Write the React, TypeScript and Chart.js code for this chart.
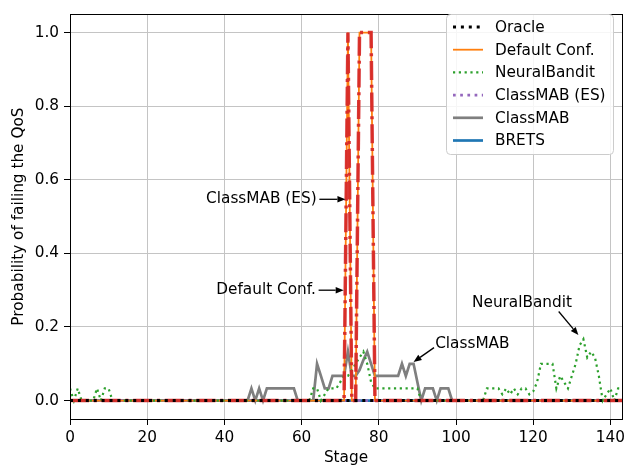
import React, { useEffect, useRef } from 'react';
import { Chart, registerables } from 'chart.js';

Chart.register(...registerables);

// ---------------- data ----------------
const oracle = [
  0, 0, 0, 0, 0, 0, 0, 0, 0, 0,
  0, 0, 0, 0, 0, 0, 0, 0, 0, 0,
  0, 0, 0, 0, 0, 0, 0, 0, 0, 0,
  0, 0, 0, 0, 0, 0, 0, 0, 0, 0,
  0, 0, 0, 0, 0, 0, 0, 0, 0, 0,
  0, 0, 0, 0, 0, 0, 0, 0, 0, 0,
  0, 0, 0, 0, 0, 0, 0, 0, 0, 0,
  0, 0, 0, 0, 0, 0, 0, 0, 0, 0,
  0, 0, 0, 0, 0, 0, 0, 0, 0, 0,
  0, 0, 0, 0, 0, 0, 0, 0, 0, 0,
  0, 0, 0, 0, 0, 0, 0, 0, 0, 0,
  0, 0, 0, 0, 0, 0, 0, 0, 0, 0,
  0, 0, 0, 0, 0, 0, 0, 0, 0, 0,
  0, 0, 0, 0, 0, 0, 0, 0, 0, 0,
  0, 0, 0, 0,
];

const defaultConf = [
  0, 0, 0, 0, 0, 0, 0, 0, 0, 0,
  0, 0, 0, 0, 0, 0, 0, 0, 0, 0,
  0, 0, 0, 0, 0, 0, 0, 0, 0, 0,
  0, 0, 0, 0, 0, 0, 0, 0, 0, 0,
  0, 0, 0, 0, 0, 0, 0, 0, 0, 0,
  0, 0, 0, 0, 0, 0, 0, 0, 0, 0,
  0, 0, 0, 0, 0, 0, 0, 0, 0, 0,
  0, 0, 1, 0, 0, 1, 1, 1, 1, 0,
  0, 0, 0, 0, 0, 0, 0, 0, 0, 0,
  0, 0, 0, 0, 0, 0, 0, 0, 0, 0,
  0, 0, 0, 0, 0, 0, 0, 0, 0, 0,
  0, 0, 0, 0, 0, 0, 0, 0, 0, 0,
  0, 0, 0, 0, 0, 0, 0, 0, 0, 0,
  0, 0, 0, 0, 0, 0, 0, 0, 0, 0,
  0, 0, 0, 0,
];

const neuralBandit = [
  0.033, 0, 0.033, 0, 0, 0, 0, 0.033, 0, 0.033,
  0.033, 0, 0, 0, 0, 0, 0, 0, 0, 0,
  0, 0, 0, 0, 0, 0, 0, 0, 0, 0,
  0, 0, 0, 0, 0, 0, 0, 0, 0, 0,
  0, 0, 0, 0, 0, 0, 0, 0, 0, 0,
  0, 0, 0, 0, 0, 0, 0, 0, 0, 0,
  0, 0, 0, 0.033, 0.033, 0, 0.017, 0.033, 0.033, 0.033,
  0.05, 0.067, 0.067, 0.083, 0.1, 0.117, 0.133, 0.1, 0.05, 0.033,
  0.033, 0.033, 0.033, 0.033, 0.033, 0.033, 0.033, 0.033, 0.033, 0.033,
  0.033, 0, 0, 0, 0, 0, 0, 0, 0, 0,
  0, 0, 0, 0, 0, 0, 0, 0, 0.033, 0.033,
  0.033, 0.033, 0.017, 0.033, 0.017, 0.033, 0.017, 0.033, 0.033, 0.017,
  0.025, 0.05, 0.1, 0.1, 0.1, 0.1, 0.033, 0.067, 0.05, 0.033,
  0.067, 0.1, 0.15, 0.167, 0.117, 0.133, 0.117, 0.067, 0, 0.017,
  0.033, 0, 0.033, 0.033,
];

const classMabES = [
  0, 0, 0, 0, 0, 0, 0, 0, 0, 0,
  0, 0, 0, 0, 0, 0, 0, 0, 0, 0,
  0, 0, 0, 0, 0, 0, 0, 0, 0, 0,
  0, 0, 0, 0, 0, 0, 0, 0, 0, 0,
  0, 0, 0, 0, 0, 0, 0, 0, 0, 0,
  0, 0, 0, 0, 0, 0, 0, 0, 0, 0,
  0, 0, 0, 0, 0, 0, 0, 0, 0, 0,
  0, 0, 0, 0, 0, 0, 0, 0, 0, 0,
  0, 0, 0, 0, 0, 0, 0, 0, 0, 0,
  0, 0, 0, 0, 0, 0, 0, 0, 0, 0,
  0, 0, 0, 0, 0, 0, 0, 0, 0, 0,
  0, 0, 0, 0, 0, 0, 0, 0, 0, 0,
  0, 0, 0, 0, 0, 0, 0, 0, 0, 0,
  0, 0, 0, 0, 0, 0, 0, 0, 0, 0,
  0, 0, 0, 0,
];

const classMab = [
  0, 0, 0, 0, 0, 0, 0, 0, 0, 0,
  0, 0, 0, 0, 0, 0, 0, 0, 0, 0,
  0, 0, 0, 0, 0, 0, 0, 0, 0, 0,
  0, 0, 0, 0, 0, 0, 0, 0, 0, 0,
  0, 0, 0, 0, 0, 0, 0, 0.033, 0, 0.033,
  0, 0.033, 0.033, 0.033, 0.033, 0.033, 0.033, 0.033, 0.033, 0,
  0, 0, 0, 0, 0.1, 0.067, 0.033, 0.033, 0.067, 0.067,
  0.067, 0.067, 0.133, 0.067, 0.067, 0.083, 0.11, 0.133, 0.1, 0.067,
  0.067, 0.067, 0.067, 0.067, 0.067, 0.067, 0.1, 0.067, 0.1, 0.1,
  0.05, 0, 0.033, 0.033, 0.033, 0, 0.033, 0.033, 0.033, 0,
  0, 0, 0, 0, 0, 0, 0, 0, 0, 0,
  0, 0, 0, 0, 0, 0, 0, 0, 0, 0,
  0, 0, 0, 0, 0, 0, 0, 0, 0, 0,
  0, 0, 0, 0, 0, 0, 0, 0, 0, 0,
  0, 0, 0, 0,
];

const brets = [
  0, 0, 0, 0, 0, 0, 0, 0, 0, 0,
  0, 0, 0, 0, 0, 0, 0, 0, 0, 0,
  0, 0, 0, 0, 0, 0, 0, 0, 0, 0,
  0, 0, 0, 0, 0, 0, 0, 0, 0, 0,
  0, 0, 0, 0, 0, 0, 0, 0, 0, 0,
  0, 0, 0, 0, 0, 0, 0, 0, 0, 0,
  0, 0, 0, 0, 0, 0, 0, 0, 0, 0,
  0, 0, 0, 0, 0, 0, 0, 0, 0, 0,
  0, 0, 0, 0, 0, 0, 0, 0, 0, 0,
  0, 0, 0, 0, 0, 0, 0, 0, 0, 0,
  0, 0, 0, 0, 0, 0, 0, 0, 0, 0,
  0, 0, 0, 0, 0, 0, 0, 0, 0, 0,
  0, 0, 0, 0, 0, 0, 0, 0, 0, 0,
  0, 0, 0, 0, 0, 0, 0, 0, 0, 0,
  0, 0, 0, 0,
];

// unlabelled red dash-dot run (not in legend)
const esRun = [
  0, 0, 0, 0, 0, 0, 0, 0, 0, 0,
  0, 0, 0, 0, 0, 0, 0, 0, 0, 0,
  0, 0, 0, 0, 0, 0, 0, 0, 0, 0,
  0, 0, 0, 0, 0, 0, 0, 0, 0, 0,
  0, 0, 0, 0, 0, 0, 0, 0, 0, 0,
  0, 0, 0, 0, 0, 0, 0, 0, 0, 0,
  0, 0, 0, 0, 0, 0, 0, 0, 0, 0,
  0, 0, 1, 0, 0, 1, 1, 1, 1, 0,
  0, 0, 0, 0, 0, 0, 0, 0, 0, 0,
  0, 0, 0, 0, 0, 0, 0, 0, 0, 0,
  0, 0, 0, 0, 0, 0, 0, 0, 0, 0,
  0, 0, 0, 0, 0, 0, 0, 0, 0, 0,
  0, 0, 0, 0, 0, 0, 0, 0, 0, 0,
  0, 0, 0, 0, 0, 0, 0, 0, 0, 0,
  0, 0, 0, 0,
];

const stages = oracle.map((_, i) => i);
const xTickValues = [0, 20, 40, 60, 80, 100, 120, 140];
const yTickValues = [0, 0.2, 0.4, 0.6, 0.8, 1.0];

const FONT = 'DejaVu Sans';
const FS = 15.3;

const annotations = [
  { text: 'ClassMAB (ES)', tx: 63.9, ty: 0.547, align: 'right', from: [64.6, 0.547], to: [71.35, 0.547] },
  { text: 'Default Conf.', tx: 63.7, ty: 0.3, align: 'right', from: [64.4, 0.3], to: [70.9, 0.3] },
  { text: 'ClassMAB', tx: 94.6, ty: 0.155, align: 'left', from: [94.3, 0.144], to: [89.0, 0.105] },
  { text: 'NeuralBandit', tx: 117.1, ty: 0.265, align: 'center', from: [126.6, 0.242], to: [131.7, 0.178] },
];

function pts(arr: number[]) {
  return arr.map((v, i) => ({ x: stages[i], y: v }));
}

const framePlugin = {
  id: 'frame',
  afterDatasetsDraw(chart: any) {
    const { ctx, chartArea: a } = chart;
    ctx.save();
    ctx.strokeStyle = '#000';
    ctx.lineWidth = 1;
    ctx.strokeRect(Math.round(a.left) + 0.5, Math.round(a.top) + 0.5, Math.round(a.right - a.left), Math.round(a.bottom - a.top));
    ctx.restore();
  },
};

const annotationPlugin = {
  id: 'mplAnnotations',
  afterDraw(chart: any) {
    const { ctx } = chart;
    const xs = chart.scales.x;
    const ys = chart.scales.y;
    ctx.save();
    ctx.font = `${FS}px "${FONT}"`;
    ctx.fillStyle = '#000';
    ctx.strokeStyle = '#000';
    ctx.textBaseline = 'middle';
    for (const a of annotations) {
      ctx.textAlign = a.align;
      ctx.fillText(a.text, xs.getPixelForValue(a.tx), ys.getPixelForValue(a.ty));
      const x0 = xs.getPixelForValue(a.from[0]);
      const y0 = ys.getPixelForValue(a.from[1]);
      const x1 = xs.getPixelForValue(a.to[0]);
      const y1 = ys.getPixelForValue(a.to[1]);
      const ang = Math.atan2(y1 - y0, x1 - x0);
      const hl = 8;
      const hw = 3.2;
      const bx = x1 - hl * Math.cos(ang);
      const by = y1 - hl * Math.sin(ang);
      ctx.lineWidth = 1.3;
      ctx.beginPath();
      ctx.moveTo(x0, y0);
      ctx.lineTo(bx, by);
      ctx.stroke();
      ctx.beginPath();
      ctx.moveTo(x1, y1);
      ctx.lineTo(bx + hw * Math.sin(ang), by - hw * Math.cos(ang));
      ctx.lineTo(bx - hw * Math.sin(ang), by + hw * Math.cos(ang));
      ctx.closePath();
      ctx.fill();
    }
    ctx.restore();
  },
};

const legendPlugin = {
  id: 'mplLegend',
  afterDraw(chart: any) {
    const { ctx } = chart;
    const items = chart.data.datasets.filter((d: any) => d.inLegend);
    const x0 = 446.5;
    const y0 = 14.5;
    const w = 167;
    const h = 140;
    const r = 4;
    ctx.save();
    ctx.beginPath();
    ctx.moveTo(x0 + r, y0);
    ctx.lineTo(x0 + w - r, y0);
    ctx.arcTo(x0 + w, y0, x0 + w, y0 + r, r);
    ctx.lineTo(x0 + w, y0 + h - r);
    ctx.arcTo(x0 + w, y0 + h, x0 + w - r, y0 + h, r);
    ctx.lineTo(x0 + r, y0 + h);
    ctx.arcTo(x0, y0 + h, x0, y0 + h - r, r);
    ctx.lineTo(x0, y0 + r);
    ctx.arcTo(x0, y0, x0 + r, y0, r);
    ctx.closePath();
    ctx.fillStyle = 'rgba(255,255,255,0.85)';
    ctx.fill();
    ctx.strokeStyle = '#cccccc';
    ctx.lineWidth = 1;
    ctx.stroke();
    ctx.font = `${FS}px "${FONT}"`;
    ctx.textBaseline = 'middle';
    ctx.textAlign = 'left';
    items.forEach((d: any, i: number) => {
      const y = 27 + i * 22.7;
      ctx.save();
      ctx.strokeStyle = d.borderColor;
      ctx.lineWidth = d.borderWidth;
      ctx.setLineDash(d.borderDash || []);
      ctx.lineCap = 'butt';
      ctx.beginPath();
      ctx.moveTo(453, y);
      ctx.lineTo(483, y);
      ctx.stroke();
      ctx.restore();
      ctx.fillStyle = '#000';
      ctx.fillText(d.label, 495, y + 1);
    });
    ctx.restore();
  },
};

export default function App() {
  const ref = useRef<HTMLCanvasElement | null>(null);

  useEffect(() => {
    if (!ref.current) return;
    const tickFont = { family: FONT, size: FS };
    const chart = new Chart(ref.current, {
      type: 'line',
      data: {
        datasets: [
          { label: 'Oracle', data: pts(oracle), borderColor: '#000000', borderWidth: 3, borderDash: [3, 4.9], order: 0, inLegend: true } as any,
          { label: 'Default Conf.', data: pts(defaultConf), borderColor: '#ff7f0e', borderWidth: 1.8, borderDash: [], order: 3, inLegend: true } as any,
          { label: 'NeuralBandit', data: pts(neuralBandit), borderColor: '#2ca02c', borderWidth: 2.2, borderDash: [2.2, 3.6], order: 2, inLegend: true } as any,
          { label: 'ClassMAB (ES)', data: pts(classMabES), borderColor: '#9467bd', borderWidth: 2.7, borderDash: [2.7, 4.5], order: 4, inLegend: true } as any,
          { label: 'ClassMAB', data: pts(classMab), borderColor: '#7f7f7f', borderWidth: 2.7, borderDash: [], order: 5, inLegend: true } as any,
          { label: 'BRETS', data: pts(brets), borderColor: '#1f77b4', borderWidth: 2.7, borderDash: [], order: 6, inLegend: true } as any,
          { label: '_es_run', data: pts(esRun), borderColor: 'rgba(214,39,40,0.92)', borderWidth: 3.5, borderDash: [19, 4.8, 3, 4.8], order: 1, inLegend: false } as any,
        ],
      },
      options: {
        animation: false,
        responsive: false,
        maintainAspectRatio: false,
        events: [],
        layout: { padding: { left: 0, right: 14, top: 6, bottom: 0 } },
        elements: {
          point: { radius: 0 },
          line: { tension: 0, borderCapStyle: 'butt', borderJoinStyle: 'miter', fill: false },
        },
        plugins: {
          legend: { display: false },
          tooltip: { enabled: false },
          title: { display: false },
        },
        scales: {
          x: {
            type: 'linear',
            min: 0,
            max: 143,
            afterBuildTicks: (s: any) => {
              s.ticks = xTickValues.map((v) => ({ value: v }));
            },
            afterFit: (s: any) => {
              s.height = 49;
            },
            ticks: {
              autoSkip: false,
              maxRotation: 0,
              color: '#000',
              font: tickFont,
              padding: 4,
              callback: (v: any) => String(v),
            },
            grid: { color: '#c4c4c4', lineWidth: 1, tickLength: 6, tickColor: '#000', drawTicks: true },
            border: { display: true, color: '#000', width: 1 },
            title: { display: true, text: 'Stage', color: '#000', font: { family: FONT, size: FS }, padding: { top: 0, bottom: 1 } },
          },
          y: {
            type: 'linear',
            min: -0.05,
            max: 1.05,
            afterBuildTicks: (s: any) => {
              s.ticks = yTickValues.map((v) => ({ value: v }));
            },
            afterFit: (s: any) => {
              s.width = 70;
            },
            ticks: {
              autoSkip: false,
              color: '#000',
              font: tickFont,
              padding: 5,
              callback: (v: any) => Number(v).toFixed(1),
            },
            grid: { color: '#c4c4c4', lineWidth: 1, tickLength: 6, tickColor: '#000', drawTicks: true },
            border: { display: true, color: '#000', width: 1 },
            title: { display: true, text: 'Probability of failing the QoS', color: '#000', font: { family: FONT, size: FS }, padding: { top: 10, bottom: 0 } },
          },
        },
      },
      plugins: [framePlugin, annotationPlugin, legendPlugin],
    } as any);
    return () => chart.destroy();
  }, []);

  return (
    <div style={{ position: 'fixed', left: 0, top: 0, width: 636, height: 468, background: '#fff' }}>
      <canvas ref={ref} width={636} height={468} style={{ width: 636, height: 468, display: 'block' }} />
    </div>
  );
}
